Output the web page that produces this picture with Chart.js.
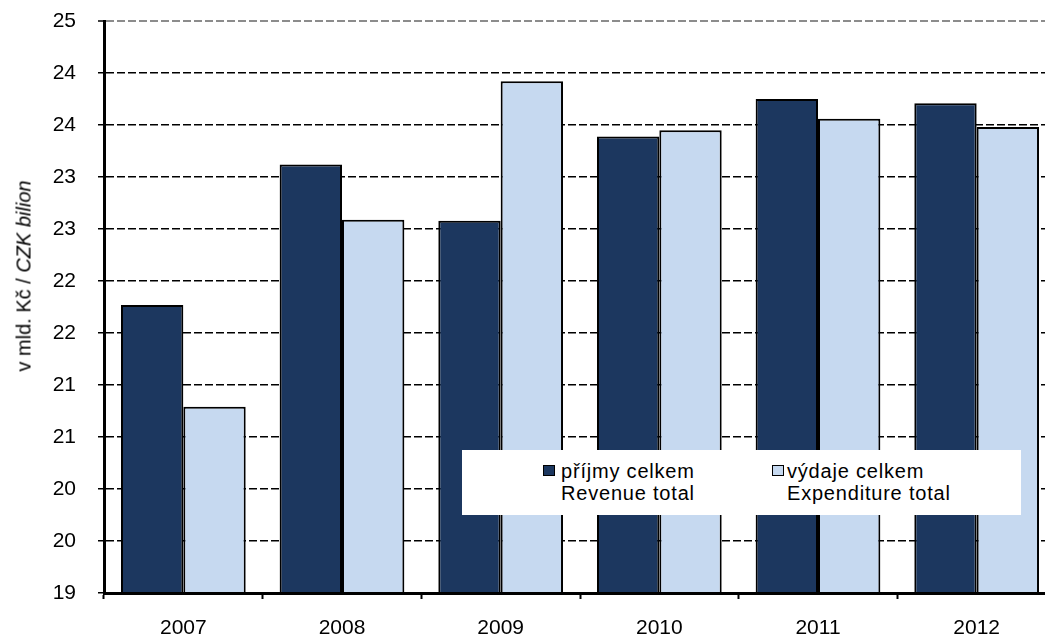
<!DOCTYPE html>
<html>
<head>
<meta charset="utf-8">
<script src="https://cdn.jsdelivr.net/npm/chart.js@4.4.1/dist/chart.umd.min.js"></script>
<style>
  html, body { margin: 0; padding: 0; background: #fff; overflow: hidden; }
  #wrap { position: relative; width: 1045px; height: 641px; overflow: hidden; }
  #chart { position: absolute; left: 0; top: 0; }
  #ytitle {
    position: absolute; left: 24px; top: 276px;
    transform: translate(-50%, -50%) rotate(-90deg);
    font: 20px "Liberation Sans", Arial, sans-serif; color: #000; white-space: nowrap;
  }
  #legend {
    position: absolute; left: 462px; top: 450px; width: 559px; height: 65px; background: #fff;
    font: 20px "Liberation Sans", Arial, sans-serif; letter-spacing: 0.8px; line-height: 22px; color: #000;
  }
  .swatch { position: absolute; top: 15px; width: 12px; height: 11px; box-sizing: border-box; border: 1px solid #000; }
  .ltext { position: absolute; top: 10px; white-space: nowrap; }
</style>
</head>
<body>
<div id="wrap">
  <canvas id="chart" width="1070" height="641"></canvas>
  <div id="ytitle">v mld. Kč / <i>CZK bilion</i></div>
  <div id="legend"></div>
</div>
<script>
// Data
const years = ["2007", "2008", "2009", "2010", "2011", "2012"];
const revenue = [21.77, 23.12, 22.58, 23.39, 23.75, 23.71];
const expenditure = [20.79, 22.59, 23.92, 23.45, 23.56, 23.48];
const revenueName = ["příjmy celkem", "Revenue total"];
const expenditureName = ["výdaje celkem", "Expenditure total"];
const yMin = 19;
const yMax = 24.5;
const yStep = 0.5;

const darkBlue = "#1c375f";
const lightBlue = "#c6d9f0";

// Legend (HTML so the two-language lines can stack)
const legendEl = document.getElementById("legend");
[[revenueName, darkBlue, 81, 99], [expenditureName, lightBlue, 310, 325]].forEach(([name, color, sx, tx]) => {
    const sw = document.createElement("div");
    sw.className = "swatch";
    sw.style.left = sx + "px";
    sw.style.background = color;
    legendEl.appendChild(sw);
    const t = document.createElement("div");
    t.className = "ltext";
    t.style.left = tx + "px";
    t.innerHTML = name.join("<br>");
    legendEl.appendChild(t);
});

const font = { family: "'Liberation Sans', Arial, sans-serif", size: 21 };

new Chart(document.getElementById("chart"), {
    type: "bar",
    data: {
        labels: years,
        datasets: [{
            label: revenueName.join(" "),
            data: revenue,
            backgroundColor: darkBlue,
            borderColor: "#000",
            borderWidth: 2,
            borderSkipped: "start"
        }, {
            label: expenditureName.join(" "),
            data: expenditure,
            backgroundColor: lightBlue,
            borderColor: "#000",
            borderWidth: 2,
            borderSkipped: "start"
        }]
    },
    options: {
        responsive: false,
        animation: false,
        devicePixelRatio: 1,
        layout: { padding: { top: 21, right: 14, left: 0, bottom: 0 } },
        datasets: { bar: { categoryPercentage: 0.786, barPercentage: 1.0 } },
        plugins: { legend: { display: false }, tooltip: { enabled: false } },
        scales: {
            x: {
                offset: true,
                grid: { display: true, drawOnChartArea: false, drawTicks: true, tickLength: 6, tickColor: "#000", tickWidth: 2 },
                border: { display: true, color: "#000", width: 3, z: 1 },
                ticks: { color: "#000", font: font, padding: 17, maxRotation: 0 },
                afterFit: (scale) => { scale.height = 48; scale.paddingLeft = 0; scale.paddingRight = 0; }
            },
            y: {
                min: yMin,
                max: yMax,
                grid: {
                    color: (ctx) => {
                        if (!ctx.tick) return "#000";
                        if (ctx.tick.value <= yMin) return "rgba(0,0,0,0)";
                        return ctx.tick.value >= yMax ? "#8c8c8c" : "#000";
                    },
                    lineWidth: (ctx) => (ctx.tick && ctx.tick.value >= yMax ? 2 : 1.5),
                    drawTicks: true,
                    tickLength: 6,
                    tickColor: "#000",
                    tickWidth: 1.5
                },
                border: { display: true, color: "#000", width: 3, dash: [8, 3] },
                ticks: {
                    stepSize: yStep,
                    color: "#000",
                    font: font,
                    padding: 22,
                    callback: (v) => Math.round(v)
                },
                afterFit: (scale) => { scale.width = 104; scale.paddingTop = 0; scale.paddingBottom = 0; }
            }
        }
    }
});
</script>
</body>
</html>
